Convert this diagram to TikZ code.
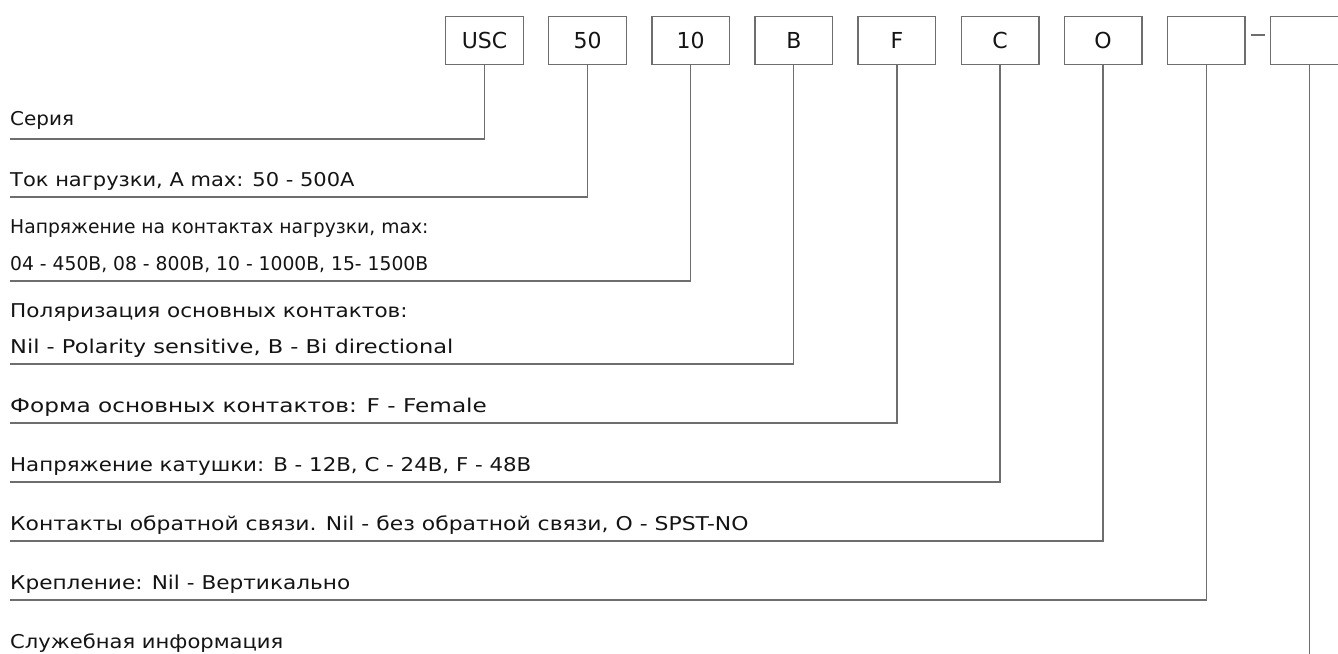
\documentclass[tikz,border=0pt]{standalone}
\usepackage{fontspec}
\setmainfont{DejaVu Sans}
\usetikzlibrary{positioning}
\definecolor{leadgray}{HTML}{6E6E6E}
\definecolor{inkblack}{HTML}{141414}

\tikzset{
  codebox/.style={draw=leadgray, line width=1.3pt, minimum width=77.7pt,
                  minimum height=47.7pt, inner sep=0pt, text=inkblack,
                  font=\fontsize{22}{26}\selectfont},
  lbl/.style={anchor=base west, inner sep=0pt, text=inkblack,
              font=\fontsize{19}{23}\selectfont\addfontfeature{FakeStretch=#1}},
  lbl/.default=1.14,
  lead/.style={draw=leadgray, line width=1.3pt},
}

\begin{document}
\begin{tikzpicture}[x=1pt, y=-1pt, node distance=24.1pt]
    \useasboundingbox (0,0) rectangle (1338,653);

    % code boxes
    \node[codebox] (usc) at (484.5,40.5) {USC};
    \node[codebox, right=of usc] (i50) {50};
    \node[codebox, right=of i50] (i10) {10};
    \node[codebox, right=of i10] (b) {B};
    \node[codebox, right=of b] (f) {F};
    \node[codebox, right=of f] (c) {C};
    \node[codebox, right=of c] (o) {O};
    \node[codebox, right=of o] (e1) {};
    \node[codebox, right=of e1] (e2) {};
    \draw[lead, shorten <=5pt, shorten >=5pt]
      ([yshift=5.5pt]e1.east) -- ([yshift=5.5pt]e2.west);

    % labels
    \node[lbl=1.05] (serija) at (10,125) {Серия};
    \node[lbl=1.106] (tok) at (10,186) {Ток нагрузки, A max: 50 - 500A};
    \node[lbl=0.986] (napr1) at (10,233) {Напряжение на контактах нагрузки, max:};
    \node[lbl=0.986] (napr2) at (10,270) {04 - 450В, 08 - 800В, 10 - 1000В, 15- 1500В};
    \node[lbl=1.134] (pol1) at (10,317) {Поляризация основных контактов:};
    \node[lbl=1.185] (pol2) at (10,353) {Nil - Polarity sensitive, B - Bi directional};
    \node[lbl=1.22] (forma) at (10,412) {Форма основных контактов: F - Female};
    \node[lbl=1.123] (kat) at (10,471) {Напряжение катушки: B - 12В, C - 24В, F - 48В};
    \node[lbl=1.152] (obr) at (10,530) {Контакты обратной связи. Nil - без обратной связи, O - SPST-NO};
    \node[lbl=1.138] (krep) at (10,589) {Крепление: Nil - Вертикально};
    \node[lbl=1.11] (sluzh) at (10,648) {Служебная информация};

    % leads
    \draw[lead] (usc.south) |- ([yshift=-14pt]serija.base west);
    \draw[lead] (i50.south) |- ([yshift=-11pt]tok.base west);
    \draw[lead] (i10.south) |- ([yshift=-11pt]napr2.base west);
    \draw[lead] (b.south) |- ([yshift=-11pt]pol2.base west);
    \draw[lead] (f.south) |- ([yshift=-11pt]forma.base west);
    \draw[lead] (c.south) |- ([yshift=-11pt]kat.base west);
    \draw[lead] (o.south) |- ([yshift=-11pt]obr.base west);
    \draw[lead] (e1.south) |- ([yshift=-11pt]krep.base west);
    \coordinate (bottom) at (e2.south |- 0,655);
    \draw[lead] (e2.south) -- (bottom);
\end{tikzpicture}
\end{document}
